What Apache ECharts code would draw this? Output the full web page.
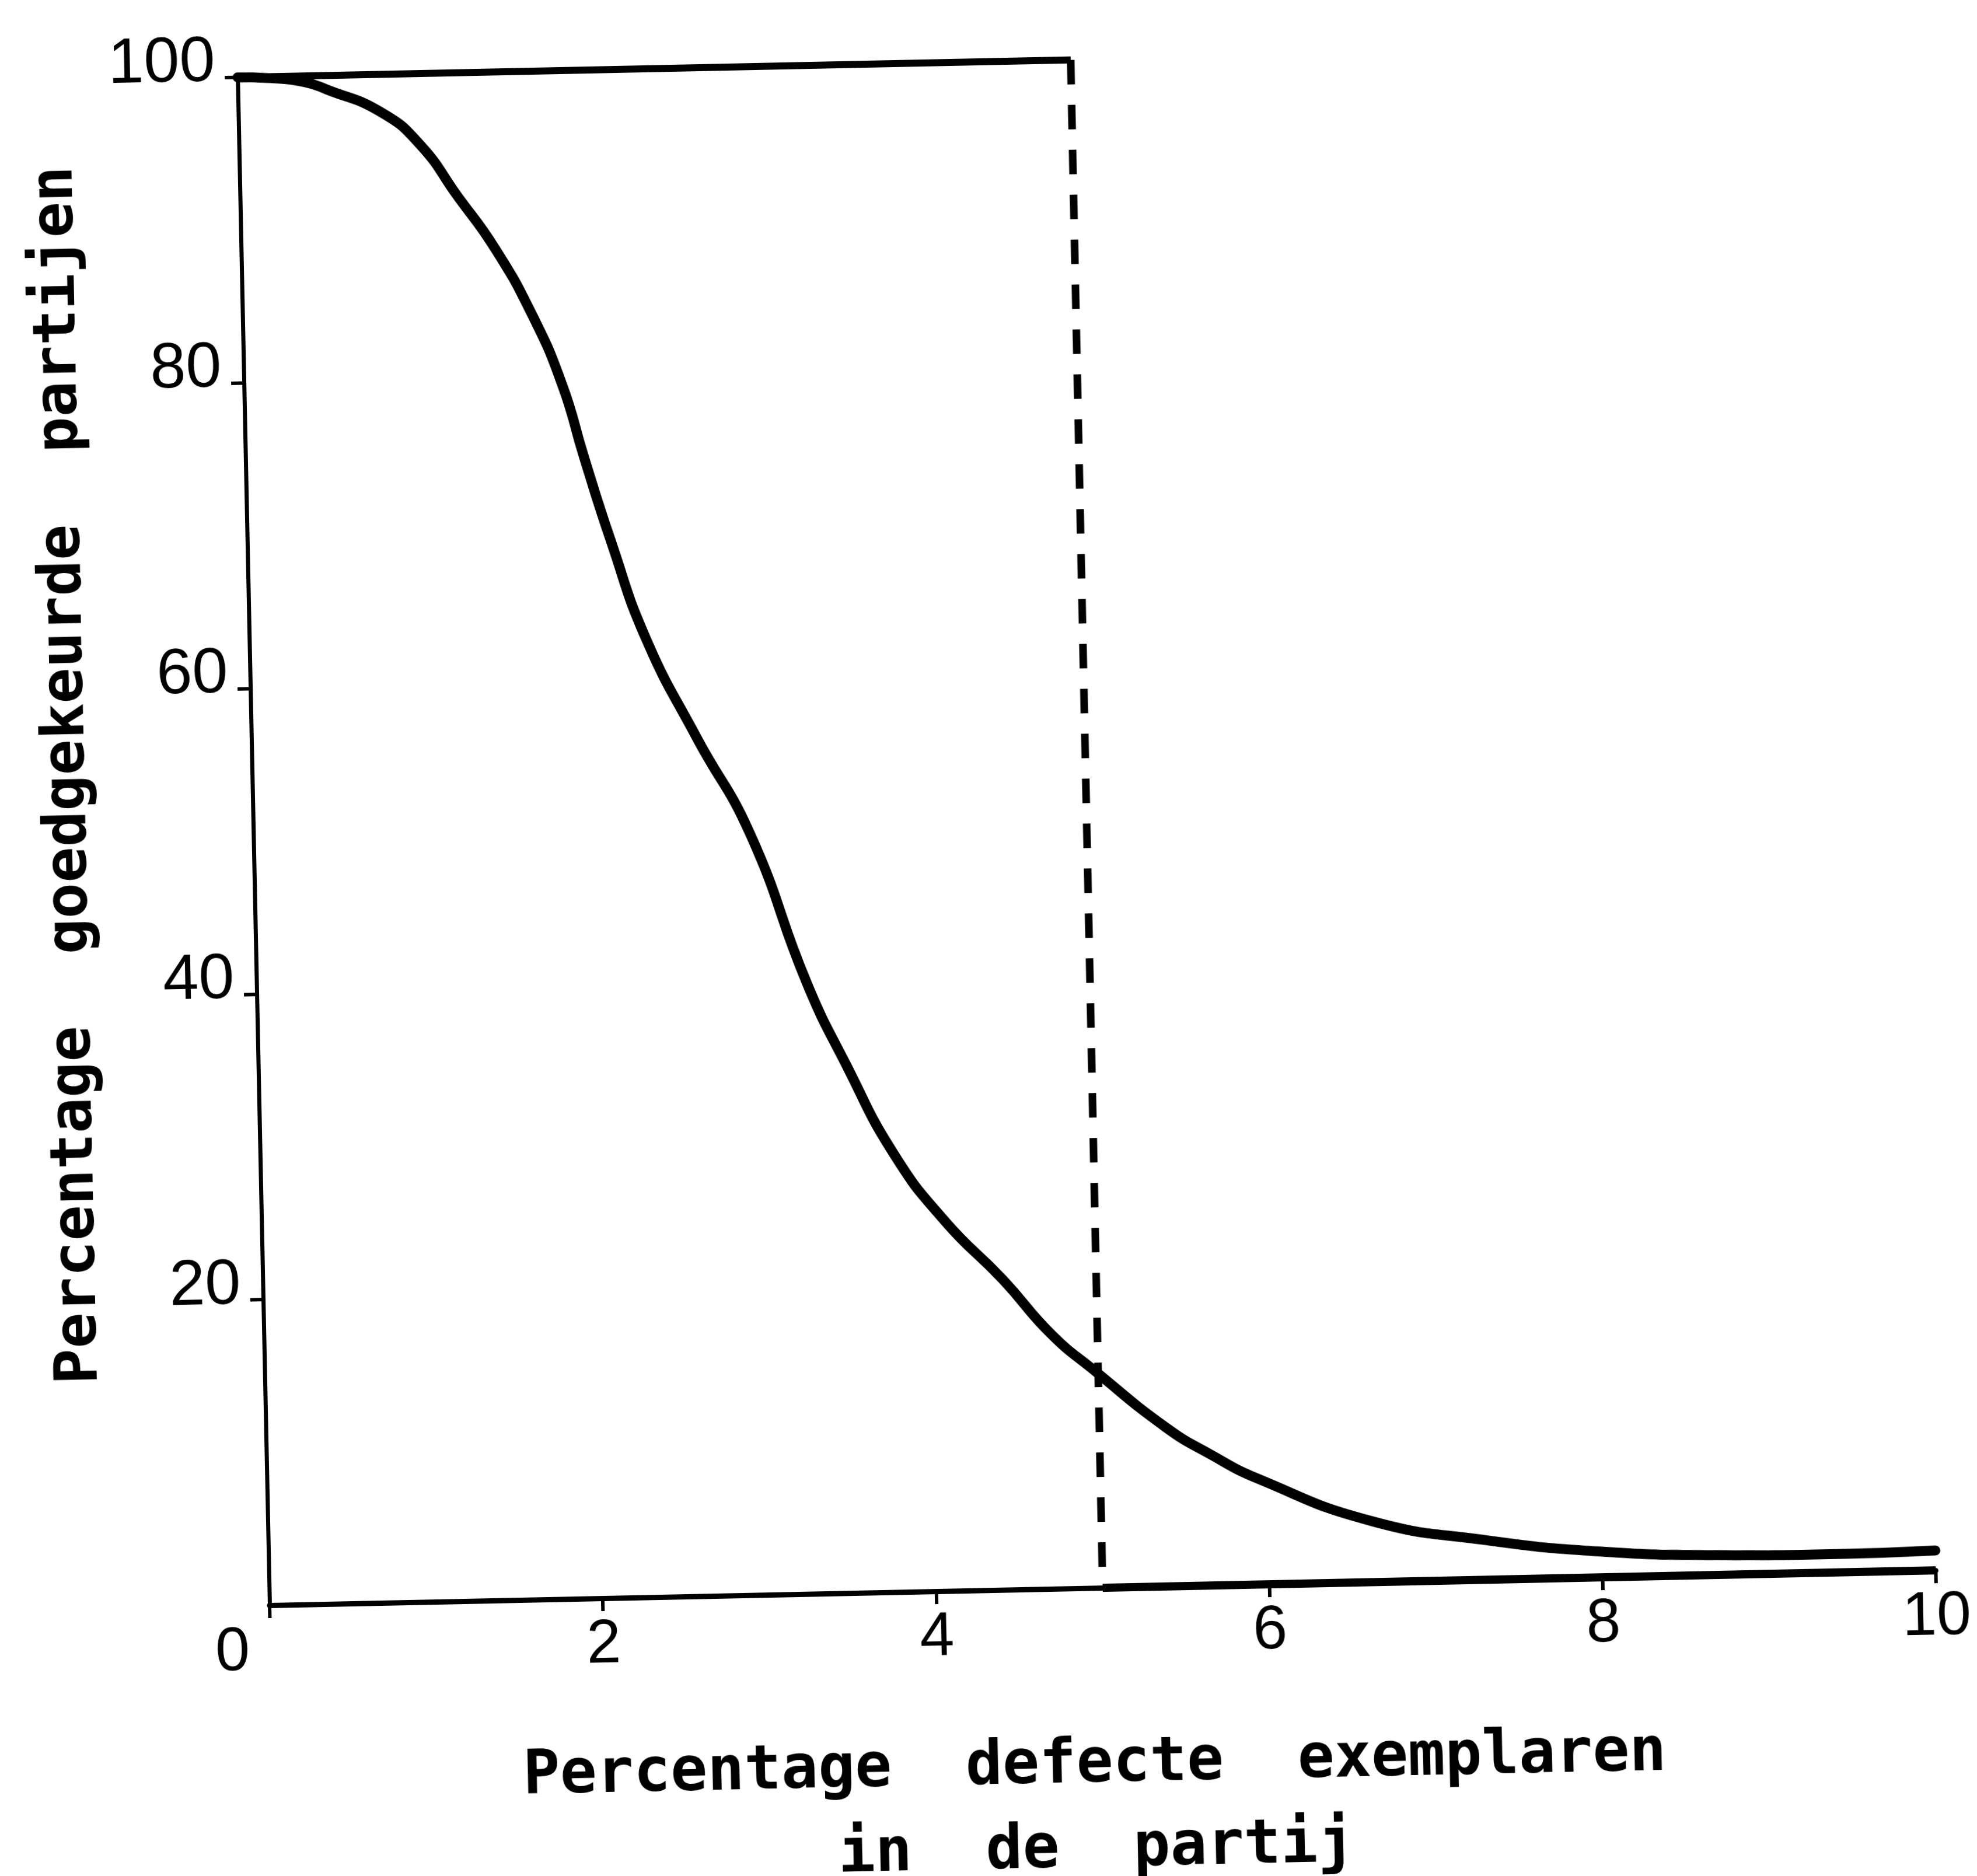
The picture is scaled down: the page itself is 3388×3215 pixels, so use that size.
<!DOCTYPE html>
<html>
<head>
<meta charset="utf-8">
<script src="https://cdn.jsdelivr.net/npm/echarts/dist/echarts.min.js"></script>
<style>
  html, body { margin: 0; padding: 0; background: #ffffff; overflow: hidden; width: 3388px; height: 3215px; }
  #chart { position: absolute; left: 0; top: 0; width: 3388px; height: 3300px;
           transform: rotate(-1.2deg); transform-origin: 462px 2751px; }
</style>
</head>
<body>
<div id="chart"></div>
<script>
// Percentage defecte exemplaren in de partij (x) vs percentage goedgekeurde partijen (y)
const pctDefect   = [0, 0.2, 0.4, 0.53, 0.86, 1.09, 1.30, 1.52, 1.74, 1.91, 2.03, 2.18, 2.38, 2.67, 2.98, 3.30, 3.53, 3.80, 4.10, 4.44, 4.72, 4.98, 5.40, 5.66, 5.95, 6.62, 7.30, 7.98, 8.68, 9.38, 10.0];
const pctAccepted = [100, 99.9, 99.6, 99.1, 97.5, 95.3, 92.0, 88.5, 84.0, 79.4, 74.7, 69.2, 62.7, 56.2, 49.8, 40.0, 34.5, 28.7, 24.2, 20.3, 16.7, 14.2, 10.4, 8.6, 6.9, 4.0, 2.6, 1.7, 1.3, 1.2, 1.3];

// Ideal OC curve: 100% accepted below 5% defect, 0% above
const idealX = [0, 5, 5, 10];
const idealY = [100, 100, 0, 0];

const xTicks = [0, 2, 4, 6, 8, 10];
const yTicks = [0, 20, 40, 60, 80, 100];

const xTitle = 'Percentage  defecte  exemplaren\nin  de  partij';
const yTitle = 'Percentage  goedgekeurde  partijen';

const curveData = pctDefect.map((x, i) => [x, pctAccepted[i]]);
const idealPts = idealX.map((x, i) => [x, idealY[i]]);

const chart = echarts.init(document.getElementById('chart'), null, { renderer: 'canvas' });

const labelFont = 'Liberation Sans, Arial, sans-serif';
const titleFont = 'DejaVu Sans Mono, monospace';

chart.setOption({
  animation: false,
  backgroundColor: '#ffffff',
  grid: { left: 462, right: 70, top: 132, bottom: 549, containLabel: false },
  xAxis: {
    type: 'value',
    min: xTicks[0], max: xTicks[xTicks.length - 1], interval: 2,
    splitLine: { show: false },
    axisLine: { show: true, onZero: false, lineStyle: { color: '#000', width: 9 } },
    axisTick: { show: true, length: 22, lineStyle: { color: '#000', width: 6 } },
    axisLabel: {
      color: '#000', fontSize: 106, fontFamily: labelFont, margin: 28,
      formatter: v => (v === 0 ? '{z|0}' : String(v)),
      rich: { z: { color: '#000', fontSize: 106, fontFamily: labelFont, padding: [0, 130, 0, 0] } }
    },
    name: xTitle,
    nameLocation: 'middle',
    nameGap: 232,
    nameTextStyle: { color: '#000', fontFamily: titleFont, fontWeight: 'bold', fontSize: 105, lineHeight: 145, padding: [0, 40, 0, 0] }
  },
  yAxis: {
    type: 'value',
    min: yTicks[0], max: yTicks[yTicks.length - 1], interval: 20,
    splitLine: { show: false },
    axisLine: { show: true, lineStyle: { color: '#000', width: 7 } },
    axisTick: { show: true, length: 22, lineStyle: { color: '#000', width: 6 } },
    axisLabel: {
      color: '#000', fontSize: 110, fontFamily: labelFont, margin: 38,
      showMinLabel: false, verticalAlign: 'bottom', lineHeight: 50
    },
    name: yTitle,
    nameLocation: 'middle',
    nameRotate: 90,
    nameGap: 264,
    nameTextStyle: { color: '#000', fontFamily: titleFont, fontWeight: 'bold', fontSize: 102, lineHeight: 102, padding: [0, 0, 0, 240] }
  },
  series: [
    {
      name: 'ideaal-boven', type: 'line', clip: false, showSymbol: false, symbol: 'none',
      data: idealPts.slice(0, 2),
      lineStyle: { color: '#000', width: 12 }, z: 2
    },
    {
      name: 'ideaal-grens', type: 'line', clip: false, showSymbol: false, symbol: 'none',
      data: idealPts.slice(1, 3),
      lineStyle: { color: '#000', width: 13, type: [42, 35] }, z: 2
    },
    {
      name: 'ideaal-onder', type: 'line', clip: false, showSymbol: false, symbol: 'none',
      data: idealPts.slice(2, 4),
      lineStyle: { color: '#000', width: 14 }, z: 2
    },
    {
      name: 'OC-curve', type: 'line', clip: false, showSymbol: false, symbol: 'none',
      smooth: 0.5,
      data: curveData,
      lineStyle: { color: '#000', width: 17, cap: 'round', join: 'round' }, z: 3
    }
  ]
});
</script>
</body>
</html>
